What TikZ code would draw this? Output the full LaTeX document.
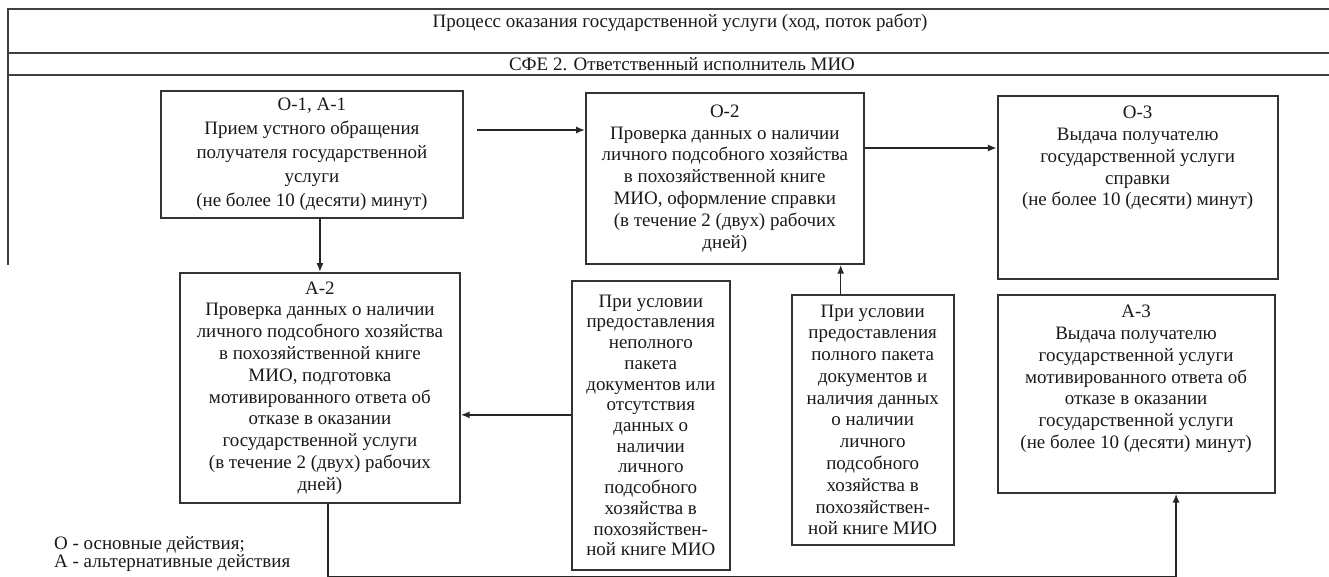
\documentclass[tikz,border=0pt]{standalone}
\usepackage{fontspec}
\setmainfont{Liberation Serif}
\usetikzlibrary{positioning,arrows.meta}

\begin{document}
\begin{tikzpicture}[
    x=0.02cm, y=-0.02cm,
    >={Latex[length=5pt,width=4pt]},
    every node/.style={font=\fontsize{10.8}{12.4}\selectfont, text=black!90},
    stepbox/.style={rectangle, draw=black!80, line width=1.1pt, align=center, inner sep=0.1cm},
    topbox/.style={stepbox, inner ysep=0.2cm},
    frame/.style={draw=black!75, line width=1.2pt},
    link/.style={draw=black!85, line width=0.8pt, ->},
  ]
  \useasboundingbox (0,0) rectangle (1329,576);

  % header
  \draw[frame] (1329,9) -- (8,9) -- (8,265);
  \draw[frame] (8,53) -- (1329,53);
  \draw[frame] (8,75) -- (1329,75);
  \node (process) at (680,23) {Процесс оказания государственной услуги (ход, поток работ)};
  \node (sfe) at (682,64) {СФЕ 2. Ответственный исполнитель МИО};

  % steps
  \node[stepbox, minimum width=6.04cm, minimum height=2.54cm, anchor=north west, font=\fontsize{10.8}{13.6}\selectfont] (o1) at (160,90)
    {О-1, А-1\\Прием устного обращения\\получателя государственной\\услуги\\(не более 10 (десяти) минут)};
  \node[stepbox, minimum width=5.56cm, minimum height=3.42cm, below right=0.04cm and 2.42cm of o1.north east] (o2)
    {О-2\\Проверка данных о наличии\\личного подсобного хозяйства\\в похозяйственной книге\\МИО, оформление справки\\(в течение 2 (двух) рабочих\\дней)};
  \node[topbox, minimum width=5.6cm, minimum height=3.66cm, text depth=1.26cm, below right=0.06cm and 2.64cm of o2.north east] (o3)
    {О-3\\Выдача получателю\\государственной услуги\\справки\\(не более 10 (десяти) минут)};
  \node[stepbox, minimum width=5.6cm, minimum height=4.6cm, below right=1.06cm and 0.38cm of o1.south west] (a2)
    {А-2\\Проверка данных о наличии\\личного подсобного хозяйства\\в похозяйственной книге\\МИО, подготовка\\мотивированного ответа об\\отказе в оказании\\государственной услуги\\(в течение 2 (двух) рабочих\\дней)};
  \node[stepbox, minimum width=3.16cm, minimum height=5.78cm, below right=0.16cm and 2.2cm of a2.north east, font=\fontsize{10.8}{11.8}\selectfont] (incomplete)
    {При условии\\предоставления\\неполного\\пакета\\документов или\\отсутствия\\данных о\\наличии\\личного\\подсобного\\хозяйства в\\похозяйствен-\\ной книге МИО};
  \node[stepbox, minimum width=3.24cm, minimum height=5cm, below right=0.28cm and 1.2cm of incomplete.north east] (complete)
    {При условии\\предоставления\\полного пакета\\документов и\\наличия данных\\о наличии\\личного\\подсобного\\хозяйства в\\похозяйствен-\\ной книге МИО};
  \node[topbox, minimum width=5.54cm, minimum height=3.96cm, text depth=0.68cm, right=0.84cm of complete.north east, anchor=north west] (a3)
    {А-3\\Выдача получателю\\государственной услуги\\мотивированного ответа об\\отказе в оказании\\государственной услуги\\(не более 10 (десяти) минут)};

  % legend
  \node[align=left, anchor=west, font=\fontsize{10.8}{9.7}\selectfont] (legend) at (48,554)
    {О - основные действия;\\А - альтернативные действия};

  % arrows
  \coordinate (p1) at ([yshift=-0.8cm]o1.north east);
  \coordinate (p2) at ([yshift=-1.12cm]o2.north east);
  \coordinate (p3) at ([yshift=0.21cm]incomplete.west);
  \coordinate (p4) at ([xshift=-0.64cm]complete.north);
  \coordinate (p5) at ([xshift=0.16cm]a2.south);
  \coordinate (p6) at ([xshift=0.8cm]a3.south);

  \draw[link, shorten <=0.26cm] (p1) -- (p1 -| o2.west);
  \draw[link] (p2) -- (p2 -| o3.west);
  \draw[link] (o1.south -| a2.north) -- (a2.north);
  \draw[link] (p3) -- (p3 -| a2.east);
  \draw[link] (p4) -- (p4 |- o2.south);
  \draw[link] (p5) -- ++(0,72.5) -| (p6);
\end{tikzpicture}
\end{document}
